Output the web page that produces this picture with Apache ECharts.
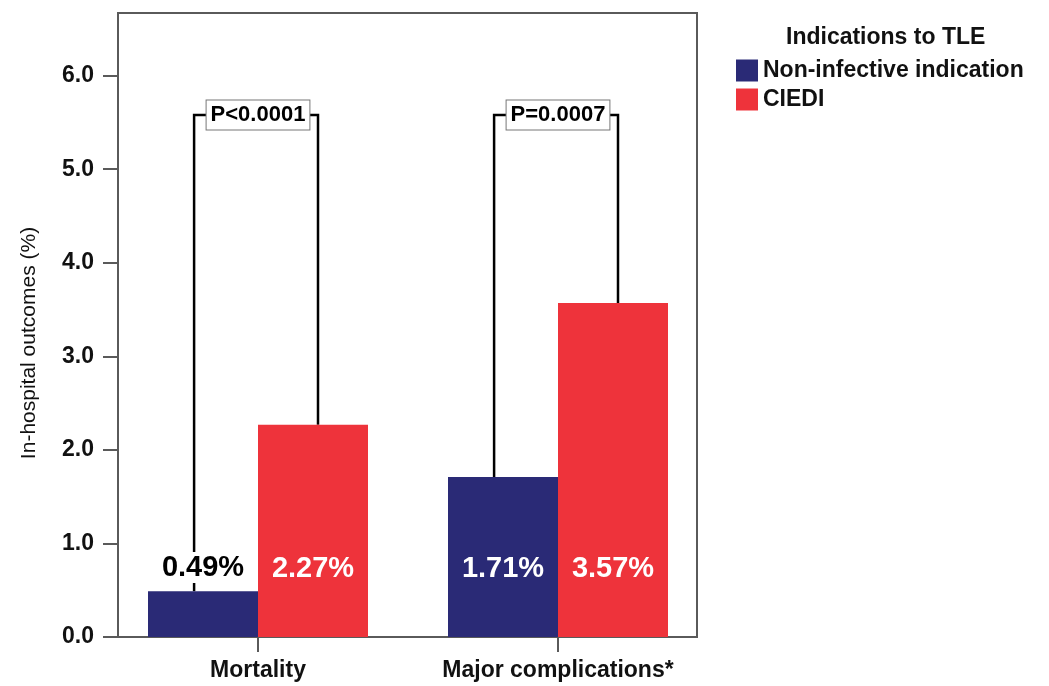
<!DOCTYPE html>
<html>
<head>
<meta charset="utf-8">
<title>In-hospital outcomes by indication to TLE</title>
<script src="https://cdn.jsdelivr.net/npm/echarts@6/dist/echarts.min.js"></script>
<style>
  html, body { margin: 0; padding: 0; background: #fff; }
  #chart { width: 1049px; height: 686px; }
</style>
</head>
<body>
<div id="chart"></div>
<script>
// data
var categories = ['Mortality', 'Major complications*'];
var nonInfective = [0.49, 1.71];
var ciedi = [2.27, 3.57];
var pValues = ['P<0.0001', 'P=0.0007'];
var bracketTop = [5.58, 5.58];
var yTicks = [0, 1, 2, 3, 4, 5, 6];
var yMax = 6.67;

var FONT = '"Liberation Sans", Arial, Helvetica, sans-serif';
var BLUE = '#2a2a76';
var RED = '#ee333b';
var FRAME = '#5a5a5a';

var myChart = echarts.init(document.getElementById('chart'), null, { renderer: 'canvas' });

// bracket rows: category index, top, left leg end, right leg end, label
var bracketData = [];
for (var i = 0; i < categories.length; i++) {
  bracketData.push([i, bracketTop[i], nonInfective[i], ciedi[i], pValues[i]]);
}

// first bar label sits above the short bar, black on white
var blueData = nonInfective.map(function (v, i) {
  if (i === 0) {
    return {
      value: v,
      label: { color: '#000', backgroundColor: '#fff', padding: [1, 3] }
    };
  }
  return v;
});

var option = {
  animation: false,
  textStyle: { fontFamily: FONT },
  title: {
    text: 'Indications to TLE',
    left: 781,
    top: 21,
    textStyle: { fontFamily: FONT, fontSize: 23, fontWeight: 'bold', color: '#111' }
  },
  legend: {
    orient: 'vertical',
    left: 736,
    top: 59,
    itemWidth: 22,
    itemHeight: 22,
    itemGap: 6,
    padding: 0,
    textStyle: { fontFamily: FONT, fontSize: 23, fontWeight: 'bold', color: '#111' },
    data: [
      { name: 'Non-infective indication', icon: 'rect' },
      { name: 'CIEDI', icon: 'rect' }
    ]
  },
  grid: [
    // frame + y scale
    { left: 118, top: 13, width: 579, height: 624, show: true,
      borderColor: FRAME, borderWidth: 2, backgroundColor: 'transparent' },
    // category bands
    { left: 108, top: 13, width: 600, height: 624 }
  ],
  xAxis: [
    { gridIndex: 0, type: 'value', min: 0, max: 1, show: false },
    {
      gridIndex: 1,
      type: 'category',
      data: categories,
      axisLine: { show: false },
      axisTick: { show: true, alignWithLabel: true, interval: 0, length: 15,
        lineStyle: { color: FRAME, width: 2 } },
      axisLabel: { interval: 0, margin: 22, fontFamily: FONT, fontSize: 23, fontWeight: 'bold', color: '#111' }
    }
  ],
  yAxis: [
    {
      gridIndex: 0,
      type: 'value',
      min: 0,
      max: yMax,
      name: 'In-hospital outcomes (%)',
      nameLocation: 'middle',
      nameGap: 78,
      nameTextStyle: { fontFamily: FONT, fontSize: 21, color: '#111', padding: [0, 36, 0, 0] },
      axisLine: { show: false },
      splitLine: { show: false },
      axisTick: { show: true, length: 15, customValues: yTicks,
        lineStyle: { color: FRAME, width: 2 } },
      axisLabel: {
        margin: 24,
        customValues: yTicks,
        fontFamily: FONT, fontSize: 23, fontWeight: 'bold', color: '#111',
        formatter: function (v) { return v.toFixed(1); }
      }
    },
    { gridIndex: 1, type: 'value', min: 0, max: yMax, show: false }
  ],
  series: [
    {
      name: 'Non-infective indication',
      type: 'bar',
      xAxisIndex: 1,
      yAxisIndex: 1,
      z: 2,
      barWidth: 110,
      barGap: '0%',
      itemStyle: { color: BLUE },
      label: {
        show: true,
        position: 'insideBottom',
        distance: 54,
        fontFamily: FONT, fontSize: 29, fontWeight: 'bold', color: '#fff',
        formatter: function (p) { return p.value.toFixed(2) + '%'; }
      },
      data: blueData
    },
    {
      name: 'CIEDI',
      type: 'bar',
      xAxisIndex: 1,
      yAxisIndex: 1,
      z: 2,
      barWidth: 110,
      barGap: '0%',
      itemStyle: { color: RED },
      label: {
        show: true,
        position: 'insideBottom',
        distance: 54,
        fontFamily: FONT, fontSize: 29, fontWeight: 'bold', color: '#fff',
        formatter: function (p) { return p.value.toFixed(2) + '%'; }
      },
      data: ciedi
    },
    {
      name: 'brackets',
      type: 'custom',
      xAxisIndex: 1,
      yAxisIndex: 1,
      z: 1,
      silent: true,
      renderItem: function (params, api) {
        var ci = api.value(0);
        var top = api.coord([ci, api.value(1)]);
        var band = api.size([1, 0])[0];
        var xl = top[0] - band * 0.213;
        var xr = top[0] + band * 0.2;
        var yl = api.coord([ci, api.value(2)])[1];
        var yr = api.coord([ci, api.value(3)])[1];
        return {
          type: 'group',
          children: [
            {
              type: 'polyline',
              shape: { points: [[xl, yl], [xl, top[1]], [xr, top[1]], [xr, yr]] },
              style: { stroke: '#000', lineWidth: 2.5, fill: null }
            },
            {
              type: 'text',
              x: top[0],
              y: top[1],
              style: {
                text: bracketData[params.dataIndex][4],
                align: 'center',
                verticalAlign: 'middle',
                font: 'bold 22px ' + FONT,
                fill: '#000',
                backgroundColor: '#fff',
                borderColor: '#777',
                borderWidth: 1,
                padding: [4, 4, 3, 4]
              }
            }
          ]
        };
      },
      data: bracketData
    }
  ]
};

myChart.setOption(option);
</script>
</body>
</html>
